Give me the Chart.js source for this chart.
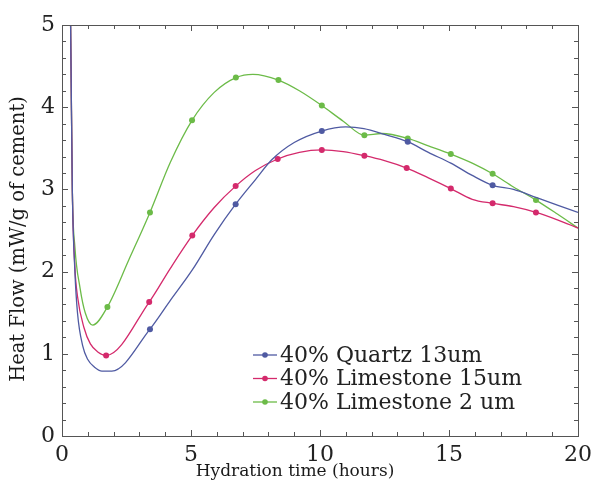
<!DOCTYPE html>
<html>
<head>
<meta charset="utf-8">
<script src="https://cdn.jsdelivr.net/npm/chart.js@4"></script>
<style>
    html, body { margin: 0; padding: 0; background: #fff; }
</style>
</head>
<body>
<canvas id="heatChart" width="593" height="482"></canvas>
<script>
// values (hours, mW/g of cement)
const hoursQuartz13 = [0.3, 0.35, 0.4, 0.5, 0.6, 0.8, 1.0, 1.25, 1.55, 1.93, 3.41, 4.2, 5.05, 5.9, 6.73, 7.5, 8.13, 9.0, 10.07, 11.0, 11.7, 12.5, 13.4, 14.2, 15.07, 15.9, 16.69, 17.5, 18.4, 19.2, 20];
const flowQuartz13 = [6.0, 4.5, 3.0, 2.0, 1.5, 1.1, 0.93, 0.84, 0.79, 0.79, 1.30, 1.65, 2.02, 2.45, 2.82, 3.12, 3.36, 3.57, 3.71, 3.76, 3.74, 3.67, 3.58, 3.45, 3.32, 3.17, 3.05, 3.0, 2.9, 2.81, 2.72];
const markQuartz13 = [3.41, 6.73, 10.07, 13.4, 16.69];

const hoursLime15 = [0.3, 0.35, 0.4, 0.5, 0.6, 0.85, 1.1, 1.4, 1.71, 3.38, 4.2, 5.05, 5.9, 6.73, 7.5, 8.36, 9.2, 10.07, 10.9, 11.72, 12.5, 13.36, 14.2, 15.07, 15.9, 16.69, 17.5, 18.37, 19.2, 20];
const flowLime15 = [6.0, 4.5, 3.0, 2.05, 1.7, 1.32, 1.12, 1.02, 0.98, 1.63, 2.04, 2.44, 2.78, 3.04, 3.23, 3.37, 3.45, 3.48, 3.46, 3.41, 3.35, 3.26, 3.14, 3.01, 2.88, 2.83, 2.79, 2.72, 2.63, 2.53];
const markLime15 = [1.71, 3.38, 5.05, 6.73, 8.36, 10.07, 11.72, 13.36, 15.07, 16.69, 18.37];

const hoursLime2 = [0.3, 0.35, 0.4, 0.5, 0.7, 0.9, 1.19, 1.76, 2.6, 3.41, 4.2, 5.04, 5.9, 6.74, 7.4, 8.39, 9.2, 10.07, 10.9, 11.72, 12.4, 13.4, 14.2, 15.07, 15.9, 16.69, 17.5, 18.37, 19.2, 20];
const flowLime2 = [6.0, 4.5, 3.0, 2.3, 1.8, 1.5, 1.35, 1.57, 2.15, 2.72, 3.33, 3.84, 4.18, 4.36, 4.40, 4.33, 4.2, 4.02, 3.83, 3.66, 3.68, 3.62, 3.53, 3.43, 3.32, 3.19, 3.03, 2.87, 2.7, 2.53];
const markLime2 = [1.76, 3.41, 5.04, 6.74, 8.39, 10.07, 11.72, 13.4, 15.07, 16.69, 18.37];

const seriesLabels = ['40% Quartz 13um', '40% Limestone 15um', '40% Limestone 2 um'];
const seriesColors = ['#4f5aa2', '#d42a6c', '#6cbb48'];

const xTitle = 'Hydration time (hours)';
const yTitle = 'Heat Flow (mW/g of cement)';

const serif = "'DejaVu Serif', 'Liberation Serif', serif";

function toPoints(xs, ys) {
    return xs.map((x, i) => ({ x: x, y: ys[i] }));
}

function makeDataset(label, color, xs, ys, marks) {
    return {
        label: label,
        data: toPoints(xs, ys),
        borderColor: color,
        backgroundColor: color,
        borderWidth: 1.3,
        pointRadius: ctx => (ctx.raw && marks.includes(ctx.raw.x)) ? 3 : 0,
        pointBorderWidth: 0,
        pointBackgroundColor: color,
        cubicInterpolationMode: 'monotone',
        fill: false
    };
}

// inward ticks on all four sides plus the frame
const frameTicks = {
    id: 'frameTicks',
    afterDatasetsDraw(chart) {
        const { ctx, chartArea: a, scales: { x, y } } = chart;
        ctx.save();
        ctx.strokeStyle = '#555';
        ctx.lineWidth = 1;
        ctx.strokeRect(Math.round(a.left) + 0.5, Math.round(a.top) + 0.5,
            Math.round(a.right - a.left), Math.round(a.bottom - a.top));
        ctx.beginPath();
        for (let v = 0; v <= 20; v++) {
            const px = Math.round(x.getPixelForValue(v)) + 0.5;
            const len = v % 5 === 0 ? 6 : 4;
            ctx.moveTo(px, a.bottom); ctx.lineTo(px, a.bottom - len);
            ctx.moveTo(px, a.top); ctx.lineTo(px, a.top + len);
        }
        for (let i = 0; i <= 25; i++) {
            const py = Math.round(y.getPixelForValue(i / 5)) + 0.5;
            const len = i % 5 === 0 ? 6 : 4;
            ctx.moveTo(a.left, py); ctx.lineTo(a.left + len, py);
            ctx.moveTo(a.right, py); ctx.lineTo(a.right - len, py);
        }
        ctx.stroke();
        ctx.restore();
    }
};

// axis titles, placed a bit off-centre like the original
const axisTitles = {
    id: 'axisTitles',
    afterDraw(chart) {
        const { ctx, chartArea: a } = chart;
        ctx.save();
        ctx.fillStyle = '#1a1a1a';
        ctx.textAlign = 'center';
        ctx.textBaseline = 'middle';
        ctx.font = '17px ' + serif;
        ctx.fillText(xTitle, a.left + 233, a.bottom + 36);
        ctx.translate(19, a.top + 214);
        ctx.rotate(-Math.PI / 2);
        ctx.font = '19.5px ' + serif;
        ctx.fillText(yTitle, 0, 0);
        ctx.restore();
    }
};

// legend drawn inside the plot, lower right
const innerLegend = {
    id: 'innerLegend',
    afterDraw(chart) {
        const { ctx, chartArea: a } = chart;
        const left = a.left + 191;
        const top = a.top + 330;
        ctx.save();
        ctx.font = '22px ' + serif;
        ctx.textBaseline = 'middle';
        chart.data.datasets.forEach((ds, i) => {
            const cy = top + i * 23.5;
            ctx.strokeStyle = ds.borderColor;
            ctx.lineWidth = 1.3;
            ctx.beginPath();
            ctx.moveTo(left, cy);
            ctx.lineTo(left + 24, cy);
            ctx.stroke();
            ctx.fillStyle = ds.borderColor;
            ctx.beginPath();
            ctx.arc(left + 12, cy, 2.8, 0, Math.PI * 2);
            ctx.fill();
            ctx.fillStyle = '#222';
            ctx.fillText(ds.label, left + 27, cy + 1);
        });
        ctx.restore();
    }
};

const ctx = document.getElementById('heatChart').getContext('2d');

new Chart(ctx, {
    type: 'line',
    data: {
        datasets: [
            makeDataset(seriesLabels[0], seriesColors[0], hoursQuartz13, flowQuartz13, markQuartz13),
            makeDataset(seriesLabels[1], seriesColors[1], hoursLime15, flowLime15, markLime15),
            makeDataset(seriesLabels[2], seriesColors[2], hoursLime2, flowLime2, markLime2)
        ]
    },
    options: {
        responsive: false,
        animation: false,
        layout: {
            padding: { left: 0, top: 25, right: 15, bottom: 0 }
        },
        plugins: {
            legend: { display: false },
            tooltip: { enabled: false }
        },
        scales: {
            x: {
                type: 'linear',
                min: 0,
                max: 20,
                afterFit: s => {
                    s.height = 46;
                    s.paddingLeft = 0;
                    s.paddingRight = 0;
                },
                grid: { display: false, drawTicks: false },
                border: { display: false },
                ticks: {
                    stepSize: 5,
                    padding: 6,
                    color: '#222',
                    font: { family: serif, size: 22 }
                }
            },
            y: {
                min: 0,
                max: 5,
                afterFit: s => { s.width = 62; },
                grid: { display: false, drawTicks: false },
                border: { display: false },
                ticks: {
                    stepSize: 1,
                    padding: 7,
                    color: '#222',
                    font: { family: serif, size: 22 }
                }
            }
        }
    },
    plugins: [frameTicks, axisTitles, innerLegend]
});
</script>
</body>
</html>
